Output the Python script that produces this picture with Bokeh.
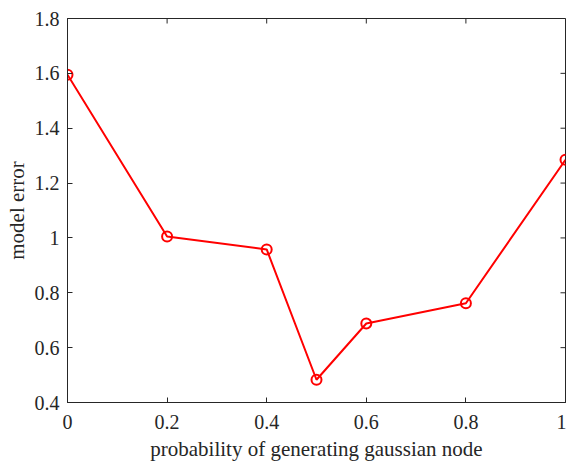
import math
from bokeh.plotting import figure
from bokeh.models import FixedTicker, Range1d
from bokeh.embed import file_html
from bokeh.resources import INLINE

# data
prob = [0, 0.2, 0.4, 0.5, 0.6, 0.8, 1.0]
model_error = [1.595, 1.005, 0.958, 0.483, 0.688, 0.762, 1.285]

x_ticks = [0, 0.2, 0.4, 0.6, 0.8, 1.0]
x_tick_labels = ["0", "0.2", "0.4", "0.6", "0.8", "1"]
y_ticks = [0.4, 0.6, 0.8, 1.0, 1.2, 1.4, 1.6, 1.8]
y_tick_labels = ["0.4", "0.6", "0.8", "1", "1.2", "1.4", "1.6", "1.8"]

X_MIN, X_MAX = 0, 1
Y_MIN, Y_MAX = 0.4, 1.8

FONT = "Liberation Serif"
TXT = "#262626"
AX = "#262626"

p = figure(
    width=566, height=463,
    x_range=Range1d(X_MIN, X_MAX), y_range=Range1d(Y_MIN, Y_MAX),
    output_backend="svg", toolbar_location=None,
    min_border_left=67, min_border_top=18, min_border_right=1, min_border_bottom=60,
    background_fill_color="white", border_fill_color="white",
)
p.outline_line_color = AX
p.outline_line_width = 1
p.xgrid.visible = False
p.ygrid.visible = False

def style(ax, ticks, labels):
    ax.ticker = FixedTicker(ticks=ticks)
    ax.major_label_overrides = {t: l for t, l in zip(ticks, labels)}
    ax.axis_line_color = AX
    ax.major_tick_line_color = AX
    ax.major_tick_in = 5
    ax.major_tick_out = 0
    ax.minor_tick_line_color = None
    ax.major_label_text_font = FONT
    ax.major_label_text_font_size = "20px"
    ax.major_label_text_color = TXT
    ax.major_label_standoff = 8
    ax.axis_label_text_font = FONT
    ax.axis_label_text_font_size = "21px"
    ax.axis_label_text_font_style = "normal"
    ax.axis_label_text_color = TXT

style(p.xaxis[0], x_ticks, x_tick_labels)
style(p.yaxis[0], y_ticks, y_tick_labels)
p.xaxis[0].major_label_standoff = 12
p.xaxis[0].axis_label = "probability of generating gaussian node"
p.yaxis[0].axis_label = "model error"
p.xaxis[0].axis_label_standoff = 5
p.yaxis[0].axis_label_standoff = 3

# mirrored inward ticks on the top and right edges of the box
p.ray(x=x_ticks, y=[Y_MAX] * len(x_ticks), length=5, length_units="screen",
      angle=-math.pi / 2, line_color=AX, line_width=1)
p.ray(x=[X_MAX] * len(y_ticks), y=y_ticks, length=5, length_units="screen",
      angle=math.pi, line_color=AX, line_width=1)

p.line(prob, model_error, line_color="#ff0000", line_width=2)
p.scatter(prob, model_error, marker="circle", size=10, fill_color=None,
          line_color="#ff0000", line_width=2)

open("out.html", "w").write(file_html(p, INLINE))
